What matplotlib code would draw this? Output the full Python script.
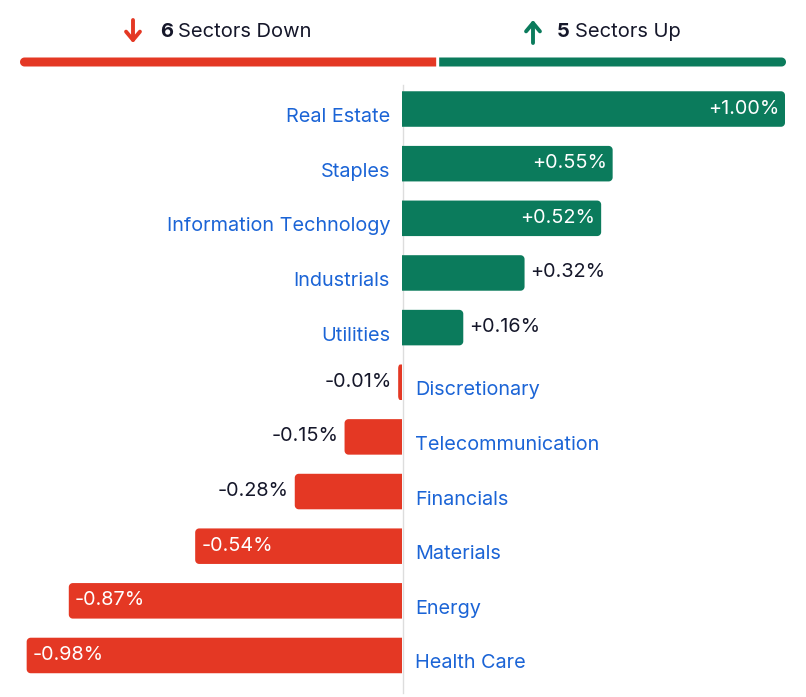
import numpy as np
import matplotlib.pyplot as plt
from matplotlib.patches import Polygon

sectors = ["Real Estate", "Staples", "Information Technology", "Industrials",
           "Utilities", "Discretionary", "Telecommunication", "Financials",
           "Materials", "Energy", "Health Care"]
changes = [1.00, 0.55, 0.52, 0.32, 0.16, -0.01, -0.15, -0.28, -0.54, -0.87, -0.98]

GREEN = "#0b7b5c"
RED = "#e43824"
BLUE = "#1b64d6"
INK = "#15172a"

plt.rcParams['font.family'] = ['Inter', 'DejaVu Sans']


def half_round(xa, xb, yb, yt, rx, ry, n=10):
    # box from xa (square end) to xb (rounded end)
    sgn = 1 if xb >= xa else -1
    rx = min(rx, abs(xb - xa) / 2)
    cx = xb - sgn * rx
    t = np.linspace(0, np.pi / 2, n)
    c1 = [(cx + sgn * rx * np.sin(a), yb + ry - ry * np.cos(a)) for a in t]
    c2 = [(cx + sgn * rx * np.cos(a), yt - ry + ry * np.sin(a)) for a in t]
    return [(xa, yb)] + c1 + c2 + [(xa, yt)]


W, H = 806, 697
fig = plt.figure(figsize=(W / 100, H / 100), dpi=100)

# header, drawn in pixel space
hx = fig.add_axes([0, 0, 1, 1])
hx.set_xlim(0, W)
hx.set_ylim(H, 0)
hx.axis('off')

n_down = sum(c < 0 for c in changes)
n_up = sum(c > 0 for c in changes)
left, right, gap = 20, 786, 3
split = left + (right - left - gap) * n_down / (n_down + n_up)
y0, y1 = 57.5, 66.5
hx.add_patch(Polygon(half_round(split, left, y0, y1, 4.5, 4.5), closed=True, fc=RED, ec='none'))
hx.add_patch(Polygon(half_round(split + gap, right, y0, y1, 4.5, 4.5), closed=True, fc=GREEN, ec='none'))

arrow = '->,head_length=0.6,head_width=0.5'
hx.annotate('', xy=(133, 43), xytext=(133, 20),
            arrowprops=dict(arrowstyle=arrow, lw=2.8, color=RED, shrinkA=0, shrinkB=0))
hx.annotate('', xy=(533, 20), xytext=(533, 43),
            arrowprops=dict(arrowstyle=arrow, lw=2.8, color=GREEN, shrinkA=0, shrinkB=0))
hfs = 14.5
hx.text(160, 32, str(n_down), fontsize=hfs, fontweight='bold', color=INK, va='center', ha='left')
hx.text(178, 32, "Sectors Down", fontsize=hfs, color=INK, va='center', ha='left')
hx.text(557, 32, str(n_up), fontsize=hfs, fontweight='bold', color=INK, va='center', ha='left')
hx.text(575, 32, "Sectors Up", fontsize=hfs, color=INK, va='center', ha='left')

# zero line
hx.plot([402.5, 402.5], [85, 693], color="#dddddd", lw=1)

# main chart
zero_px, scale = 402, 383.0
top, bottom = 81.7, 682.8
ax = fig.add_axes([0, (H - bottom) / H, 1, (bottom - top) / H])
ax.set_xlim(-zero_px / scale, (W - zero_px) / scale)
n = len(sectors)
ax.set_ylim(n - 0.5, -0.5)
ax.axis('off')

ypos = np.arange(n)
colors = [GREEN if c > 0 else RED for c in changes]
bars = ax.barh(ypos, changes, height=0.65, color=colors, linewidth=0)

sx = scale
sy = (bottom - top) / n
for b in bars:
    x, y, w, h = b.get_x(), b.get_y(), b.get_width(), b.get_height()
    b.set_visible(False)
    ax.add_patch(Polygon(half_round(x, x + w, y, y + h, 4 / sx, 4 / sy),
                         closed=True, fc=b.get_facecolor(), ec='none'))

fs = 14.3
off = 6 / sx
lab_dy = 8 / sy
val_dy = -0.5 / sy
for i, (s, c) in enumerate(zip(sectors, changes)):
    txt = f"{c:+.2f}%"
    if c > 0:
        ax.text(-12 / sx, i + lab_dy, s, ha='right', va='center', color=BLUE, fontsize=fs)
        if c >= 0.5:
            ax.text(c - off, i + val_dy, txt, ha='right', va='center', color='white', fontsize=fs)
        else:
            ax.text(c + off, i + val_dy, txt, ha='left', va='center', color=INK, fontsize=fs)
    else:
        ax.text(13 / sx, i + lab_dy, s, ha='left', va='center', color=BLUE, fontsize=fs)
        if c <= -0.5:
            ax.text(c + off, i + val_dy, txt, ha='left', va='center', color='white', fontsize=fs)
        else:
            ax.text(c - off, i + val_dy, txt, ha='right', va='center', color=INK, fontsize=fs)

fig.savefig("out.png", dpi=100)
